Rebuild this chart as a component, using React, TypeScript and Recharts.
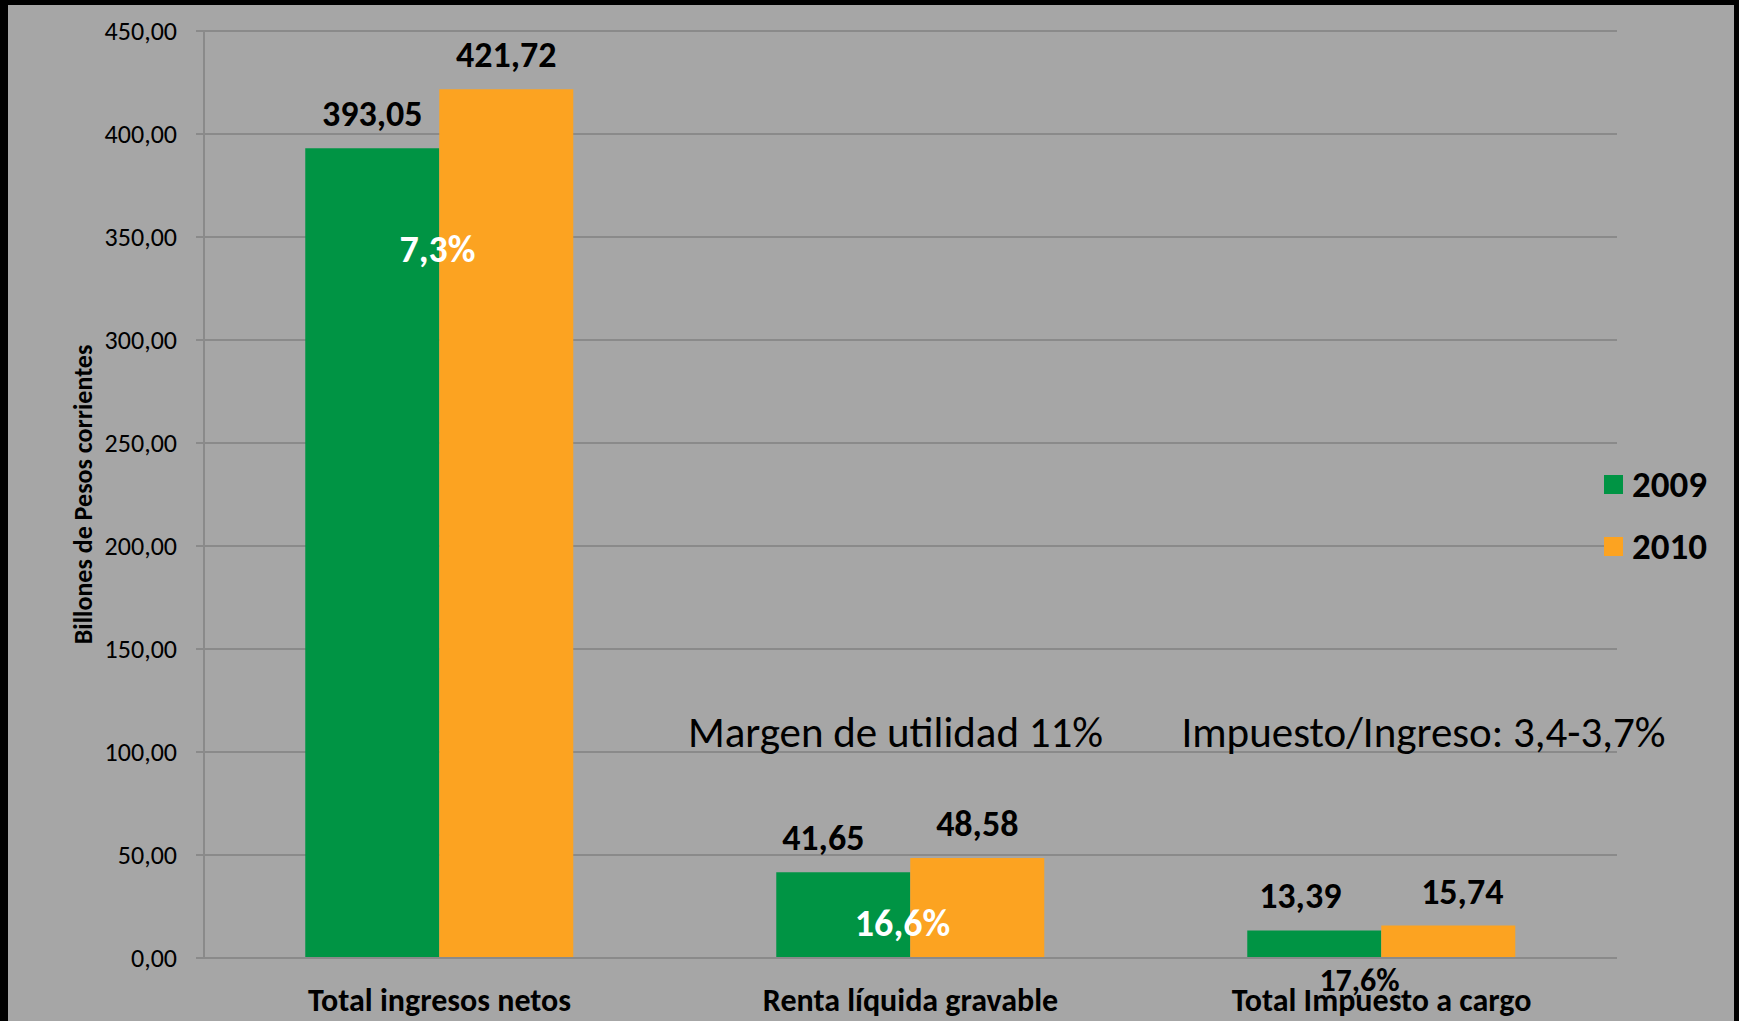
import React from "react"
import {
  BarChart,
  Bar,
  XAxis,
  YAxis,
  CartesianGrid,
  Legend,
  LabelList,
  ReferenceDot,
} from "recharts"

const categories = ["Total ingresos netos", "Renta líquida gravable", "Total Impuesto a cargo"]
const values2009 = [393.05, 41.65, 13.39]
const values2010 = [421.72, 48.58, 15.74]
const yTicks = [0, 50, 100, 150, 200, 250, 300, 350, 400, 450]

// notes drawn on the chart: category, y value, text
const notes = [
  { cat: categories[0], y: 344.5, text: "7,3%" },
  { cat: categories[1], y: 17, text: "16,6%" },
  { cat: categories[2], y: -10.7, text: "17,6%" },
  { cat: categories[1], y: 109.7, text: "Margen de utilidad 11%" },
  { cat: categories[2], y: 109.7, text: "Impuesto/Ingreso: 3,4-3,7%" },
]

const data = categories.map((name, i) => ({
  name,
  y2009: values2009[i],
  y2010: values2010[i],
}))

const FONT = "Carlito, Calibri, 'Liberation Sans Narrow', 'Open Sans', sans-serif"
const GREEN = "#009444"
const ORANGE = "#FCA321"
const GRID = "#8a8a8a"

const fmt = (v: number) => v.toFixed(2).replace(".", ",")

const noteStyles = [
  { fill: "#ffffff", fontSize: 38, fontWeight: 700, dx: -2 },
  { fill: "#ffffff", fontSize: 38, fontWeight: 700, dx: -8 },
  { fill: "#000000", fontSize: 32, fontWeight: 700, dx: -22 },
  { fill: "#000000", fontSize: 43, fontWeight: 400, dx: -15 },
  { fill: "#000000", fontSize: 43, fontWeight: 400, dx: 42 },
]

// small horizontal nudges of the value labels, like the original
const shift2009 = [0, -20, -14]
const shift2010 = [0, 0, 14]

function valueLabel(shift: number[]) {
  return (props: any) => {
    const { x, y, width, value, index } = props
    return (
      <text
        x={x + width / 2 + (shift[index] || 0)}
        y={y - 22}
        textAnchor="middle"
        style={{ fill: "#000", fontSize: 36, fontWeight: 700, fontFamily: FONT }}
      >
        {fmt(Number(value))}
      </text>
    )
  }
}

function LegendBox() {
  const items = [
    { label: "2009", color: GREEN },
    { label: "2010", color: ORANGE },
  ]
  return (
    <div style={{ fontFamily: FONT }}>
      {items.map((it) => (
        <div key={it.label} style={{ display: "flex", alignItems: "center", height: 62 }}>
          <span style={{ width: 19, height: 19, background: it.color, marginRight: 9 }} />
          <span style={{ fontSize: 37, fontWeight: 700, color: "#000" }}>{it.label}</span>
        </div>
      ))}
    </div>
  )
}

export default function App() {
  return (
    <div style={{ position: "absolute", left: 0, top: 0, width: 1739, height: 1021, background: "#000" }}>
      <div style={{ position: "absolute", left: 8, top: 5, width: 1726, height: 1016, background: "#a6a6a6" }} />
      <div style={{ position: "absolute", left: 0, top: 0 }}>
        <BarChart
          width={1739}
          height={1021}
          data={data}
          margin={{ top: 31, right: 122, bottom: 0, left: 0 }}
          barCategoryGap="21.5%"
          barGap={0}
          style={{ fontFamily: FONT }}
        >
          <CartesianGrid vertical={false} stroke={GRID} strokeWidth={2} />
          <XAxis
            xAxisId="edges"
            type="number"
            domain={[0, 3]}
            ticks={[0, 1, 2, 3]}
            allowDataOverflow
            tick={false}
            axisLine={false}
            tickLine={{ stroke: GRID, strokeWidth: 2 }}
            tickSize={11}
            height={0}
          />
          <XAxis
            dataKey="name"
            height={63}
            axisLine={{ stroke: GRID, strokeWidth: 2 }}
            tickLine={false}
            tickSize={0}
            tickMargin={30}
            tick={{ fill: "#000", fontSize: 32, fontWeight: 700 }}
            interval={0}
          />
          <YAxis
            width={204}
            domain={[0, 450]}
            ticks={yTicks}
            tickFormatter={fmt}
            axisLine={{ stroke: GRID, strokeWidth: 2 }}
            tickLine={{ stroke: GRID, strokeWidth: 2 }}
            tickSize={8}
            tickMargin={19}
            tick={{ fill: "#000", fontSize: 26 }}
            label={{
              value: "Billones de Pesos corrientes",
              angle: -90,
              position: "center",
              dx: -19,
              style: { fill: "#000", fontSize: 26, fontWeight: 700, fontFamily: FONT },
            }}
          />
          <Legend
            layout="vertical"
            align="center"
            verticalAlign="middle"
            content={() => <LegendBox />}
            wrapperStyle={{ left: 1604, top: 453, width: 130 }}
          />
          <Bar dataKey="y2009" name="2009" fill={GREEN} isAnimationActive={false}>
            <LabelList dataKey="y2009" content={valueLabel(shift2009)} />
          </Bar>
          <Bar dataKey="y2010" name="2010" fill={ORANGE} isAnimationActive={false}>
            <LabelList dataKey="y2010" content={valueLabel(shift2010)} />
          </Bar>
          {notes.map((n, i) => (
            <ReferenceDot
              key={n.text}
              x={n.cat}
              y={n.y}
              r={0}
              ifOverflow="visible"
              label={{
                value: n.text,
                position: "center",
                dx: noteStyles[i].dx,
                style: {
                  fill: noteStyles[i].fill,
                  fontSize: noteStyles[i].fontSize,
                  fontWeight: noteStyles[i].fontWeight,
                  fontFamily: FONT,
                },
              }}
            />
          ))}
        </BarChart>
      </div>
    </div>
  )
}
